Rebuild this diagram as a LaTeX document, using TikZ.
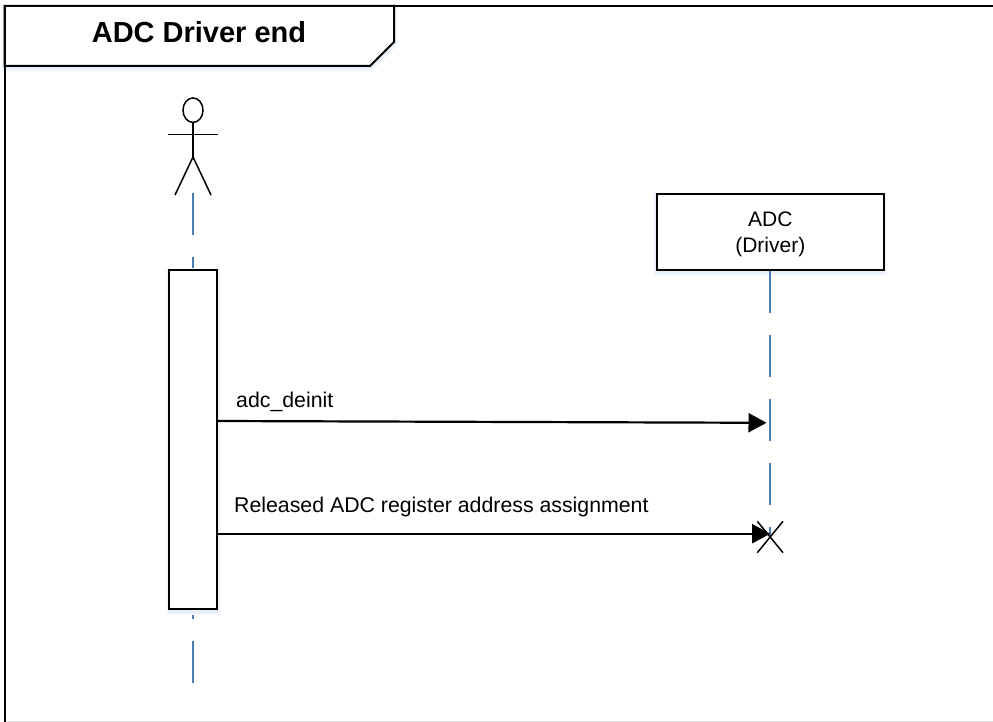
\documentclass[tikz,border=0pt]{standalone}
\usepackage{fontspec}
\setmainfont{Liberation Sans}
\usetikzlibrary{arrows.meta,shapes.geometric}
\definecolor{lifeblue}{HTML}{4A7EB0}
\definecolor{glow}{HTML}{C4D8EE}
\tikzset{
  glowshadow/.style={
    preaction={draw=glow!10,line width=8pt,transform canvas={yshift=-2pt}},
    preaction={draw=glow!22,line width=5pt,transform canvas={yshift=-2pt}},
    preaction={draw=glow!40,line width=2.5pt,transform canvas={yshift=-2pt}}},
  umlbox/.style={draw=black,line width=2pt,fill=white,inner sep=0pt,glowshadow},
  lifeline/.style={draw=lifeblue,line width=2.2pt,dash pattern=on 42pt off 22pt},
  stick/.style={draw=black,line width=1.5pt},
  msg/.style={draw=black,line width=2.2pt,-{Triangle[length=18pt,width=19pt]},shorten >=0pt},
  msgtext/.style={font=\fontsize{21.3}{24}\selectfont,anchor=base west,inner sep=0pt},
}
\begin{document}
\begin{tikzpicture}[x=1pt,y=-1pt]
\useasboundingbox (0,0) rectangle (993,722);
% title
\path[draw=black,line width=2pt,fill=white,glowshadow] (4.5,6) -- (394,6) -- (394,42) -- (370,66) -- (4.5,66) -- cycle;
% frame
\draw[draw=black!13,line width=1.2pt] (4.5,721.3) -- (993,721.3);
\draw[black,line width=2pt] (993,6) -- (4.5,6) -- (4.5,722);
\node[font=\fontsize{29}{32}\selectfont\bfseries,anchor=base,inner sep=0pt] (title) at (199,43) {ADC Driver end};
% actor
\node[stick,ellipse,inner sep=0pt,minimum width=20pt,minimum height=24.5pt] (head) at (193,110.2) {};
\coordinate (hip) at (193,157);
\coordinate (armL) at (168,134.5);
\coordinate (armR) at (218,134.5);
\coordinate (legL) at (175,195);
\coordinate (legR) at (211,195);
\draw[stick] (head.south) -- (hip);
\draw[stick] (armL) -- (armR);
\draw[stick] (legL) -- (hip) -- (legR);
% lifelines
\coordinate (actorTop) at (192.7,193);
\coordinate (actorEnd) at (192.7,683);
\draw[lifeline] (actorTop) -- (actorEnd);
\node[umlbox,minimum width=48pt,minimum height=339.5pt] (act) at (193,439.5) {};
\node[umlbox,minimum width=227.3pt,minimum height=76pt,align=center,font=\fontsize{21}{26}\selectfont] (adc) at (770.3,232) {\rule{0pt}{19pt}ADC\\(Driver)};
\coordinate (adcEnd) at (770.3,535);
\draw[lifeline] (adc.south) -- (adcEnd);
% messages
\coordinate (m1a) at (217,421);
\coordinate (m1b) at (766.5,422.8);
\coordinate (m2a) at (217,533.7);
\coordinate (m2b) at (770.2,533.7);
\draw[msg] (m1a) -- (m1b);
\draw[msg] (m2a) -- (m2b);
% destroy mark
\draw[stick] (757.3,521.3) -- (783,552.7);
\draw[stick] (783,521.3) -- (757.3,552.7);
\node[msgtext] (l1) at (236,407) {adc\_deinit};
\node[msgtext] (l2) at (234,512) {Released ADC register address assignment};
\end{tikzpicture}
\end{document}
